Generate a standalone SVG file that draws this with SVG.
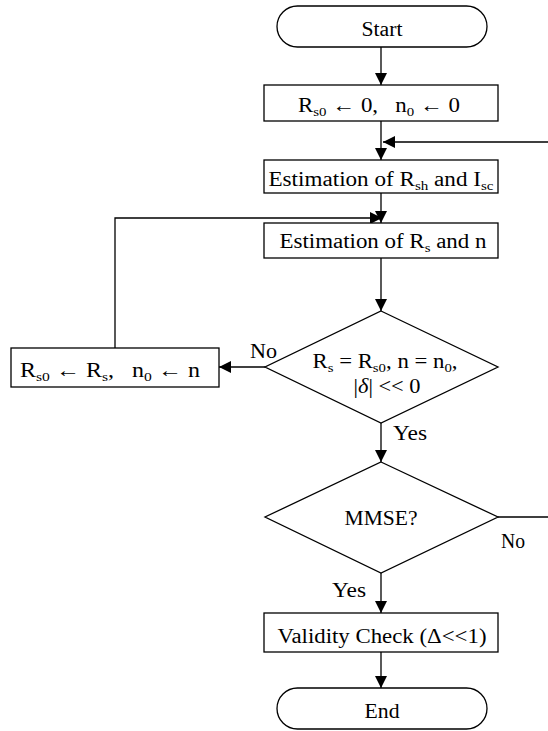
<svg xmlns="http://www.w3.org/2000/svg" width="548" height="731" viewBox="0 0 548 731">
<style>
.s{fill:#fff;stroke:#000;stroke-width:1.3}
.c{fill:none;stroke:#000;stroke-width:1.3}
text{font-family:"Liberation Serif","Times New Roman",serif;font-size:20px;fill:#000}
.m{text-anchor:middle}
.sub{font-size:13px}
</style>
<defs>
<marker id="ah" viewBox="0 0 12 12" refX="12" refY="6" markerWidth="12" markerHeight="12" markerUnits="userSpaceOnUse" orient="auto">
<path d="M0,0 L12,6 L0,12 Z" fill="#000"/>
</marker>
</defs>
<g id="connectors">
<path class="c" d="M381,47 V85" marker-end="url(#ah)"/>
<path class="c" d="M381,121 V160" marker-end="url(#ah)"/>
<path class="c" d="M381,193 V223" marker-end="url(#ah)"/>
<path class="c" d="M381,258 V311" marker-end="url(#ah)"/>
<path class="c" d="M265,367 H219" marker-end="url(#ah)"/>
<path class="c" d="M115,348 V218 H382" marker-end="url(#ah)"/>
<path class="c" d="M381,423 V462" marker-end="url(#ah)"/>
<path class="c" d="M498,517 H551 V142 H383" marker-end="url(#ah)"/>
<path class="c" d="M381,573 V613" marker-end="url(#ah)"/>
<path class="c" d="M381,652 V688" marker-end="url(#ah)"/>
<text x="250" y="358" textLength="27" lengthAdjust="spacingAndGlyphs">No</text>
<text x="393" y="440" textLength="34" lengthAdjust="spacingAndGlyphs">Yes</text>
<text x="501" y="548" textLength="24" lengthAdjust="spacingAndGlyphs">No</text>
<text x="332" y="597" textLength="34" lengthAdjust="spacingAndGlyphs">Yes</text>
</g>
<g id="start">
<rect class="s" x="277" y="6" width="210" height="41" rx="20.5"/>
<text class="m" x="382" y="36" textLength="41" lengthAdjust="spacingAndGlyphs">Start</text>
</g>
<g id="init">
<rect class="s" x="264" y="85" width="234" height="36"/>
<text class="m" x="379" y="112" textLength="162" lengthAdjust="spacingAndGlyphs">R<tspan class="sub" dy="4">s0</tspan><tspan dy="-4"> ← 0,&#160;&#160;&#160;n</tspan><tspan class="sub" dy="4">0</tspan><tspan dy="-4"> ← 0</tspan></text>
</g>
<g id="est-rsh">
<rect class="s" x="264" y="160" width="234" height="33"/>
<text class="m" x="381" y="186" textLength="225" lengthAdjust="spacingAndGlyphs">Estimation of R<tspan class="sub" dy="4">sh</tspan><tspan dy="-4"> and I</tspan><tspan class="sub" dy="4">sc</tspan></text>
</g>
<g id="est-rs">
<rect class="s" x="264" y="223" width="234" height="35"/>
<text class="m" x="383" y="248" textLength="207" lengthAdjust="spacingAndGlyphs">Estimation of R<tspan class="sub" dy="4">s</tspan><tspan dy="-4"> and n</tspan></text>
</g>
<g id="update">
<rect class="s" x="11" y="348" width="208" height="39"/>
<text class="m" x="110" y="377" textLength="180" lengthAdjust="spacingAndGlyphs">R<tspan class="sub" dy="4">s0</tspan><tspan dy="-4"> ← R</tspan><tspan class="sub" dy="4">s</tspan><tspan dy="-4">,&#160;&#160;&#160;n</tspan><tspan class="sub" dy="4">0</tspan><tspan dy="-4"> ← n</tspan></text>
</g>
<g id="cond">
<path class="s" d="M381,311 L498,367 L381,423 L265,367 Z"/>
<text class="m" x="385" y="368" textLength="145" lengthAdjust="spacingAndGlyphs">R<tspan class="sub" dy="4">s</tspan><tspan dy="-4"> = R</tspan><tspan class="sub" dy="4">s0</tspan><tspan dy="-4">, n = n</tspan><tspan class="sub" dy="4">0</tspan><tspan dy="-4">,</tspan></text>
<text class="m" x="387" y="393" textLength="67" lengthAdjust="spacingAndGlyphs">|<tspan font-style="italic">δ</tspan>| &lt;&lt; 0</text>
</g>
<g id="mmse">
<path class="s" d="M381,462 L498,517 L381,573 L265,517 Z"/>
<text class="m" x="381" y="525" textLength="73" lengthAdjust="spacingAndGlyphs">MMSE?</text>
</g>
<g id="validity">
<rect class="s" x="264" y="613" width="234" height="39"/>
<text class="m" x="382" y="643" textLength="209" lengthAdjust="spacingAndGlyphs">Validity Check (Δ&lt;&lt;1)</text>
</g>
<g id="end">
<rect class="s" x="277" y="688" width="210" height="41" rx="20.5"/>
<text class="m" x="382" y="718" textLength="35" lengthAdjust="spacingAndGlyphs">End</text>
</g>
</svg>
